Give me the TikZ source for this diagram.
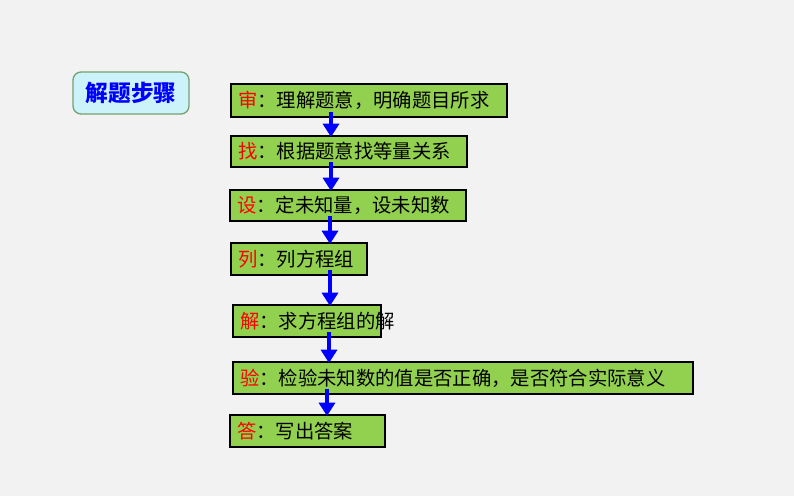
\documentclass[tikz,border=0pt]{standalone}
\usepackage{fontspec}
\setmainfont{Noto Sans CJK SC}
\usetikzlibrary{arrows.meta}
\definecolor{bg}{HTML}{F2F2F2}
\definecolor{boxg}{HTML}{92D050}
\definecolor{tbg}{HTML}{CCF2FA}
\definecolor{tbd}{HTML}{77A070}
\begin{document}
\begin{tikzpicture}[x=0.75pt,y=-0.75pt,
 arr/.style={draw=blue,line width=3pt,-{Triangle[length=10pt,width=12pt]}}]
\fill[bg] (0,0) rectangle (794,496);
\draw[tbd,fill=tbg,line width=1pt,rounded corners=6pt] (73,72) rectangle (189,114);
\node[text=blue,font=\fontsize{17}{20}\selectfont\bfseries] (t) at (131,93) {解题步骤};
\newcommand\stepb[6]{%
 \draw[black,line width=0.8pt,fill=boxg] (#2,#3) rectangle (#4,#5);
 \node[anchor=west,inner sep=0pt,font=\fontsize{14.5}{16}\selectfont] (#1) at (#2+7,{(#3+#5)/2}) {#6};}
\stepb{a}{231}{84}{507}{117}{\textcolor{red}{审}：理解题意，明确题目所求}
\stepb{b}{231}{136}{467}{167}{\textcolor{red}{找}：根据题意找等量关系}
\stepb{c}{230}{190}{466}{221}{\textcolor{red}{设}：定未知量，设未知数}
\stepb{d}{231}{243}{367}{275}{\textcolor{red}{列}：列方程组}
\stepb{e}{233}{305}{381}{337}{\textcolor{red}{解}：求方程组的解}
\stepb{f}{233}{362}{693}{394}{\textcolor{red}{验}：检验未知数的值是否正确，是否符合实际意义}
\stepb{g}{230}{415}{385}{447}{\textcolor{red}{答}：写出答案}
\coordinate (a1) at (331,112); \coordinate (a2) at (331,137);
\coordinate (b1) at (331,162); \coordinate (b2) at (331,191);
\coordinate (c1) at (330,216); \coordinate (c2) at (330,244);
\coordinate (d1) at (330,270); \coordinate (d2) at (330,306);
\coordinate (e1) at (329,332); \coordinate (e2) at (329,363);
\coordinate (f1) at (327,389); \coordinate (f2) at (327,416);
\foreach \p in {a,b,c,d,e,f} \draw[arr] (\p1) -- (\p2);
\end{tikzpicture}
\end{document}
